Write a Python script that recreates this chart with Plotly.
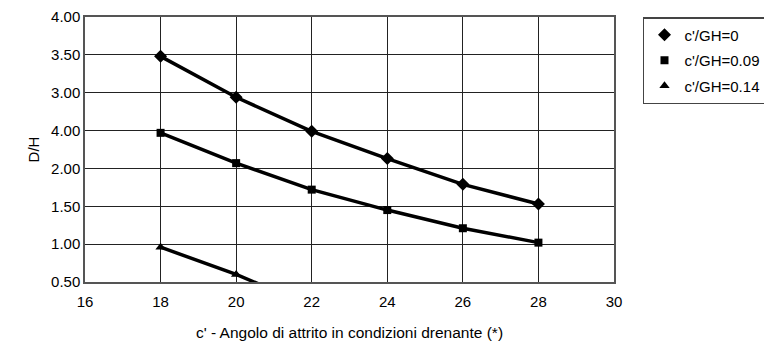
import plotly.graph_objects as go

# Data
x_vals = [18, 20, 22, 24, 26, 28]
s_gh0 = [3.48, 2.94, 2.49, 2.13, 1.79, 1.53]
s_gh009 = [2.47, 2.07, 1.72, 1.45, 1.21, 1.02]
x_gh014 = [18, 20, 22]
s_gh014 = [0.96, 0.60, 0.18]

series_names = ["c'/GH=0", "c'/GH=0.09", "c'/GH=0.14"]
y_tickvals = [0.5, 1.0, 1.5, 2.0, 2.5, 3.0, 3.5, 4.0]
y_ticktext = ["0.50", "1.00", "1.50", "2.00", "4.00", "3.00", "3.50", "4.00"]
x_tickvals = [16, 18, 20, 22, 24, 26, 28, 30]

x_title = "c' - Angolo di attrito in condizioni drenante (*)"
y_title = "D/H"

FONT = "Liberation Sans, Arial, sans-serif"

fig = go.Figure()
series = [
    (x_vals, s_gh0, "diamond", 10, series_names[0]),
    (x_vals, s_gh009, "square", 8, series_names[1]),
    (x_gh014, s_gh014, "triangle-up", 9, series_names[2]),
]
for i, (xs, ys, sym, sz, name) in enumerate(series):
    fig.add_trace(go.Scatter(
        x=xs, y=ys, mode="lines", line=dict(color="black", width=3.5),
        showlegend=False, legendgroup=f"g{i}", hoverinfo="skip", cliponaxis=True))
    fig.add_trace(go.Scatter(
        x=xs, y=ys, mode="markers", name=name, legendgroup=f"g{i}",
        marker=dict(symbol=sym, size=sz, color="black"), cliponaxis=True))

# page body has an 8px default margin, so the figure is 764x336 offset by 8px
fig.update_layout(
    width=764, height=336,
    margin=dict(l=77, r=158, t=9, b=62, autoexpand=False),
    paper_bgcolor="white", plot_bgcolor="white",
    font=dict(family=FONT, size=15, color="black"),
    legend=dict(
        x=1.0548, y=1.0, xanchor="left", yanchor="top",
        bordercolor="#444", borderwidth=1.5, bgcolor="white",
        font=dict(family=FONT, size=15, color="black"),
        tracegroupgap=3,
    ),
)
fig.update_xaxes(
    range=[16, 30], tickvals=x_tickvals, ticktext=[str(v) for v in x_tickvals],
    showgrid=True, gridcolor="#222", gridwidth=1,
    showline=True, linecolor="#555", linewidth=1.5, mirror=True,
    ticks="", zeroline=False, automargin=False, ticklabelstandoff=5,
    title=dict(text=x_title, standoff=18, font=dict(size=15.5)),
)
fig.update_yaxes(
    range=[0.5, 4.0], tickvals=y_tickvals, ticktext=y_ticktext,
    showgrid=True, gridcolor="#222", gridwidth=1,
    showline=True, linecolor="#555", linewidth=1.5, mirror=True,
    ticks="", zeroline=False, automargin=False,
    title=dict(text=y_title, standoff=8, font=dict(size=15)),
)

fig.write_html("out.html")
